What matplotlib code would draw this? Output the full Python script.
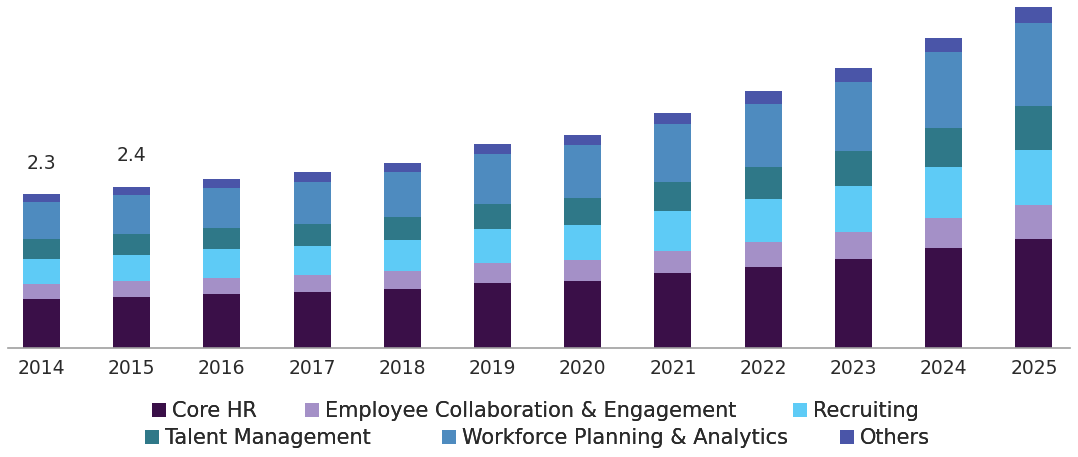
import matplotlib
matplotlib.use("Agg")
import matplotlib.pyplot as plt
from matplotlib.patches import Patch
import numpy as np

years = ["2014", "2015", "2016", "2017", "2018", "2019", "2020", "2021", "2022", "2023", "2024", "2025"]
core_hr = [0.74, 0.77, 0.81, 0.84, 0.89, 0.98, 1.01, 1.12, 1.22, 1.34, 1.49, 1.63]
employee = [0.22, 0.23, 0.24, 0.25, 0.26, 0.29, 0.31, 0.34, 0.37, 0.40, 0.45, 0.51]
recruiting = [0.38, 0.39, 0.43, 0.44, 0.47, 0.51, 0.52, 0.59, 0.64, 0.68, 0.76, 0.82]
talent = [0.29, 0.31, 0.31, 0.32, 0.34, 0.37, 0.41, 0.44, 0.48, 0.53, 0.59, 0.66]
workforce = [0.55, 0.59, 0.61, 0.64, 0.67, 0.75, 0.79, 0.86, 0.94, 1.02, 1.13, 1.24]
others = [0.12, 0.12, 0.13, 0.14, 0.14, 0.15, 0.15, 0.17, 0.19, 0.21, 0.22, 0.24]
labels_shown = {0: "2.3", 1: "2.4"}

series_names = ["Core HR", "Employee Collaboration & Engagement", "Recruiting",
                "Talent Management", "Workforce Planning & Analytics", "Others"]
series = [core_hr, employee, recruiting, talent, workforce, others]
colors = ["#3a0f48", "#a490c7", "#5ecbf6", "#2f7888", "#4e8bbf", "#4a55a8"]

# legend entry anchors (pixels): (left x, row center y)
legend_pos = [(152, 411), (305, 411), (793, 411), (145, 438), (442, 438), (840, 438)]

plt.rcParams['font.family'] = ['DejaVu Sans']

W, H = 1078, 457
fig = plt.figure(figsize=(W / 100, H / 100), dpi=100)
ax = fig.add_axes([8 / W, (H - 348.3) / H, (1070 - 8) / W, 348.3 / H])

x = np.arange(len(years))
bottom = np.zeros(len(years))
for vals, c in zip(series, colors):
    ax.bar(x, vals, width=0.41, bottom=bottom, color=c, edgecolor='none')
    bottom += np.array(vals)

for i, txt in labels_shown.items():
    ax.text(x[i], bottom[i] + 0.32, txt, ha='center', va='bottom', fontsize=13.5, color='#2a2a2a')

ax.set_xlim(-0.37, 11.4)
ax.set_ylim(0, 5.2)
for s in ['top', 'right', 'left']:
    ax.spines[s].set_visible(False)
ax.spines['bottom'].set_color('#a0a0a0')
ax.spines['bottom'].set_linewidth(1.2)
ax.set_yticks([])
ax.set_xticks(x)
ax.set_xticklabels(years, fontsize=13.5, color='#2a2a2a')
ax.tick_params(axis='x', length=0, pad=8)

for name, c, (px, py) in zip(series_names, colors, legend_pos):
    leg = fig.legend([Patch(facecolor=c, edgecolor='none')], [name], loc='center left',
                     bbox_to_anchor=(px / W, 1 - py / H), frameon=False, fontsize=15,
                     handlelength=0.65, handleheight=0.65, handletextpad=0.32,
                     borderpad=0, borderaxespad=0)
    for t in leg.get_texts():
        t.set_color('#2a2a2a')
    fig.add_artist(leg)

fig.savefig("out.png", dpi=100)
